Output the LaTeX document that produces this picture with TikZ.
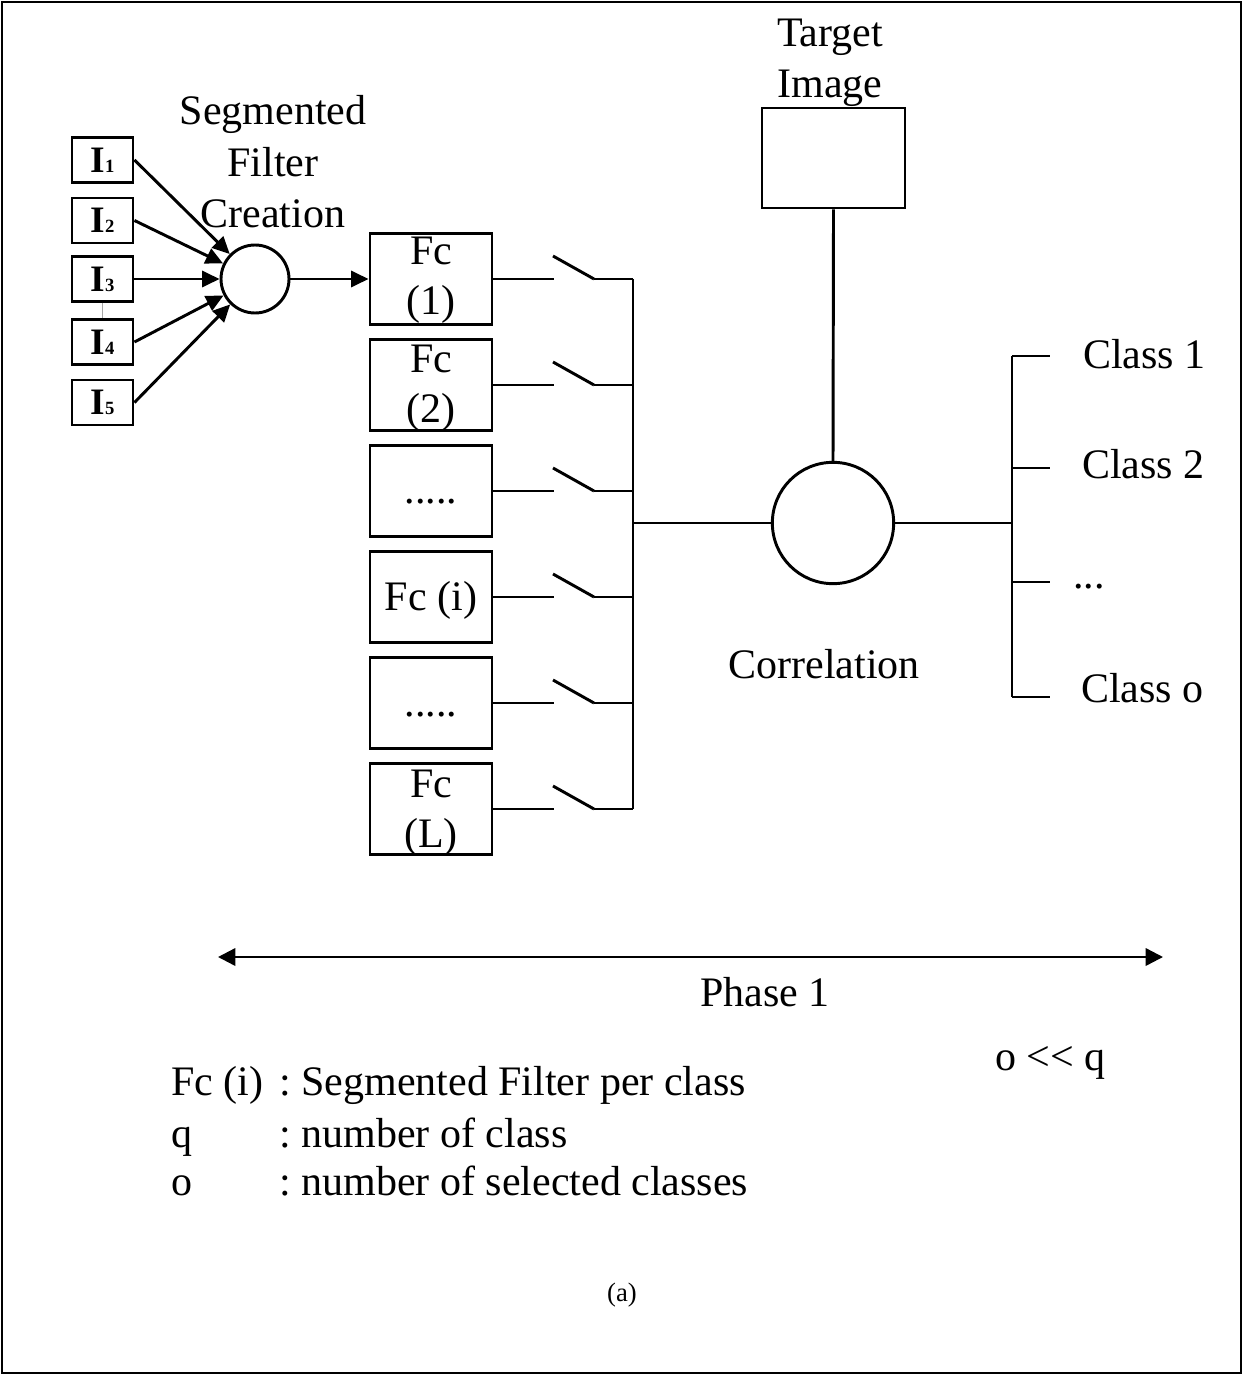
\documentclass[tikz,border=0pt]{standalone}
\usepackage{fontspec}
\setmainfont{Liberation Serif}
\usetikzlibrary{arrows.meta}
\newcommand\ilab[1]{{\fontsize{28}{30}\selectfont\bfseries I}{\fontsize{14}{15}\selectfont\bfseries #1}}
\frenchspacing
\begin{document}
\begin{tikzpicture}[x=0.75pt,y=-0.75pt,
  ln/.style={line width=2.2pt},
  arr/.style={ln,-{Triangle[length=13pt,width=12pt]}},
  darr/.style={line width=1.8pt,{Triangle[length=13pt,width=13pt]}-{Triangle[length=13pt,width=13pt]}},
  ibox/.style={draw,ln,minimum width=45.75pt,minimum height=33.75pt,inner sep=0},
  fbox/.style={draw,ln,minimum width=91.5pt,minimum height=68.25pt,inner sep=0},
  tbox/.style={draw,ln,minimum width=107.25pt,minimum height=75pt,inner sep=0},
  circ/.style={draw,ln,circle,inner sep=0},
  txt/.style={font=\fontsize{31.5}{37.5}\selectfont,inner sep=0},
  small/.style={font=\fontsize{20}{24}\selectfont,inner sep=0}
]
\useasboundingbox (0,0) rectangle (1244,1376);
\draw[line width=1.5pt] (2,2) rectangle (1241,1373);

% input images
\node[ibox] (I1) at (102.5,160) {\ilab{1}};
\node[ibox] (I2) at (102.5,220.5) {\ilab{2}};
\node[ibox] (I3) at (102.5,279) {\ilab{3}};
\node[ibox] (I4) at (102.5,342) {\ilab{4}};
\node[ibox] (I5) at (102.5,402.5) {\ilab{5}};
\draw[gray!70,line width=0.6pt] (I3.south) -- (I4.north);

% segmented filter creation
\node[circ,minimum size=51pt] (sfc) at (255,279) {};
\node[txt,anchor=base] (sfc1) at (273,125) {Segmented};
\node[txt,anchor=base] (sfc2) at (273,177) {Filter};
\node[txt,anchor=base] (sfc3) at (273,228) {Creation};
\foreach \i in {1,...,5} \draw[arr] (I\i.east) -- (sfc);

% filter boxes
\node[fbox] (f1) at (431,279) {};
\node[fbox] (f2) at (431,385) {};
\node[fbox] (f3) at (431,491) {};
\node[fbox] (f4) at (431,597) {};
\node[fbox] (f5) at (431,703) {};
\node[fbox] (f6) at (431,809) {};
\draw[arr] (sfc.east) -- (f1.west);

\node[txt,anchor=base] (f1a) at (431,265) {Fc};
\node[txt,anchor=base] (f1b) at (431,315) {(1)};
\node[txt,anchor=base] (f2a) at (431,372) {Fc};
\node[txt,anchor=base] (f2b) at (431,422) {(2)};
\node[txt,anchor=base] (f3a) at (431,503) {.....};
\node[txt,anchor=base] (f4a) at (431,610) {Fc (i)};
\node[txt,anchor=base] (f5a) at (431,716) {.....};
\node[txt,anchor=base] (f6a) at (431,797) {Fc};
\node[txt,anchor=base] (f6b) at (431,847) {(L)};

% switches and bus
\foreach \i/\y in {1/279,2/385,3/491,4/597,5/703,6/809}{
  \coordinate (sa\i) at (554,\y);
  \coordinate (sb\i) at (594,\y);
  \coordinate (bus\i) at (633,\y);
  \draw[ln] (f\i.east) -- (sa\i);
  \draw[ln] (sb\i) -- ++(-41,-23);
  \draw[ln] (sb\i) -- (bus\i);
}
\draw[ln] (bus1) -- (bus6);
\coordinate (busc) at (633,523);

% correlation
\node[circ,minimum size=91pt] (cor) at (833,523) {};
\node[tbox] (tgt) at (833.5,158) {};
\node[txt,anchor=base] (tgt1) at (830,47) {Target};
\node[txt,anchor=base] (tgt2) at (830,98) {Image};
\draw[ln] (tgt.south) -- (cor.north);
\draw[ln] (busc) -- (cor.west);
\node[txt,anchor=base] (cortxt) at (824,678) {Correlation};

% classes
\coordinate (br) at (1012,523);
\coordinate (bt) at (1012,356);
\coordinate (bb) at (1012,697);
\draw[ln] (cor.east) -- (br);
\draw[ln] (bt) -- (bb);
\foreach \j/\y in {1/356,2/468,3/582,4/697}{
  \coordinate (cl\j) at (1012,\y);
  \draw[ln] (cl\j) -- ++(38,0);
}
\node[txt,anchor=base west] (c1) at (1083,368) {Class 1};
\node[txt,anchor=base west] (c2) at (1082,478) {Class 2};
\node[txt,anchor=base west] (c3) at (1073,588) {...};
\node[txt,anchor=base west] (c4) at (1081,702) {Class o};

% phase
\coordinate (pl) at (218,957);
\coordinate (pr) at (1163,957);
\draw[darr] (pl) -- (pr);
\node[txt,anchor=base] (ph) at (765,1006) {Phase 1};
\node[txt,anchor=base west] (oq) at (995,1070) {o <{}< q};

% legend
\node[txt,anchor=base west] (lg1a) at (171,1095) {Fc (i)};
\node[txt,anchor=base west] (lg1b) at (279,1095) {: Segmented Filter per class};
\node[txt,anchor=base west] (lg2a) at (171,1147) {q};
\node[txt,anchor=base west] (lg2b) at (279,1147) {: number of class};
\node[txt,anchor=base west] (lg3a) at (171,1195) {o};
\node[txt,anchor=base west] (lg3b) at (279,1195) {: number of selected classes};

\node[small,anchor=base] (cap) at (622,1301) {(a)};
\end{tikzpicture}
\end{document}
